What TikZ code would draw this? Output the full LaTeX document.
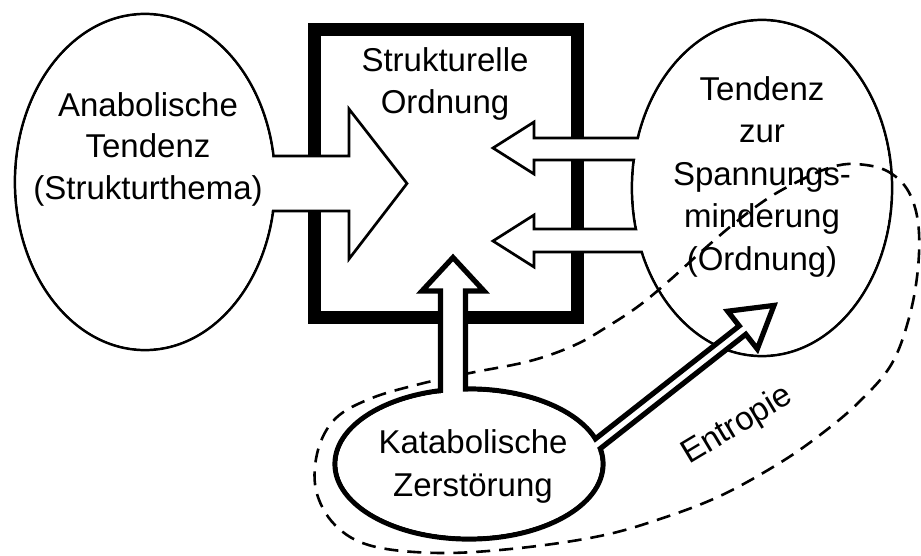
\documentclass[tikz,border=0pt]{standalone}
\usepackage{fontspec}
\setmainfont{Liberation Sans}
\begin{document}
\begin{tikzpicture}[x=1pt,y=-1pt,
  thinline/.style={line width=2.7pt},
  boldline/.style={line width=5.2pt},
  blockarrow/.style={fill=white, line join=miter},
  txt/.style={font=\fontsize{33}{42}\selectfont, inner sep=0pt, anchor=base},
  entropyline/.style={line width=2.6pt, dash pattern=on 14pt off 9pt}]
\useasboundingbox (0,0) rectangle (921,556);

% frame of the structural order
\draw[line width=13pt] (314.5,29.5) rectangle (577,317);

% anabolic tendency and its block arrow into the frame
\coordinate (ana) at (145,182);
\draw[thinline] (ana) ellipse [x radius=130, y radius=168];
\draw[thinline, blockarrow] (250,156) -- (349,156) -- (349,109) -- (407,183.5)
  -- (349,259) -- (349,211) -- (250,211) -- cycle;
\fill[white] (ana) ellipse [x radius=128.6, y radius=166.6];

% tendency towards tension reduction, two arrows back into the frame
\coordinate (ten) at (762,188);
\draw[thinline] (ten) ellipse [x radius=130, y radius=168];
\draw[thinline, blockarrow] (662,138) -- (534,138) -- (534,122) -- (493,148)
  -- (534,174) -- (534,160) -- (662,160) -- cycle;
\draw[thinline, blockarrow] (662,229) -- (534,229) -- (534,215) -- (493,241)
  -- (534,267) -- (534,252) -- (662,252) -- cycle;
\fill[white] (ten) ellipse [x radius=128.6, y radius=166.6];

% entropy loop
\draw[entropyline] plot[smooth cycle, tension=0.6] coordinates {
  (855,164) (885,170) (907,189) (918,222) (918,268) (909,318) (891,365)
  (858,403) (820,435) (778,464) (720,496) (660,519) (600,536) (520,548)
  (440,553) (372,546) (335,525) (316,490) (318,450) (336,418) (372,398)
  (420,384) (470,373) (530,361) (575,345) (610,325) (640,305) (670,280)
  (702,251) (736,222) (770,197) (805,178) (832,167)};

% catabolic destruction with its two arrows
\coordinate (kat) at (469,464);
\draw[boldline] (kat) ellipse [x radius=134, y radius=75];
\draw[boldline, blockarrow] (440.5,425) -- (440.5,291) -- (422,291) -- (453,257.5)
  -- (484,291) -- (465.5,291) -- (465.5,425) -- cycle;
\draw[boldline, blockarrow] (566.2,461.8) -- (739.2,325.9) -- (727.7,311.2)
  -- (774,305.4) -- (757.3,349.0) -- (745.8,334.3) -- (572.8,470.2) -- cycle;
\fill[white] (kat) ellipse [x radius=131.4, y radius=72.4];

% labels
\node[txt] (a1) at (148,116.5) {Anabolische};
\node[txt] (a2) at (148,158) {Tendenz};
\node[txt] (a3) at (148,199.5) {(Strukturthema)};

\node[txt] (s1) at (445,72) {Strukturelle};
\node[txt] (s2) at (445,113.5) {Ordnung};

\node[txt] (t1) at (762,101) {Tendenz};
\node[txt] (t2) at (762,143) {zur};
\node[txt] (t3) at (762,186) {Spannungs-};
\node[txt] (t4) at (762,228) {minderung};
\node[txt] (t5) at (762,270) {(Ordnung)};

\node[txt] (k1) at (473,453) {Katabolische};
\node[txt] (k2) at (473,496) {Zerstörung};

\node[txt, rotate=31] (en) at (742,433) {Entropie};
\end{tikzpicture}
\end{document}
